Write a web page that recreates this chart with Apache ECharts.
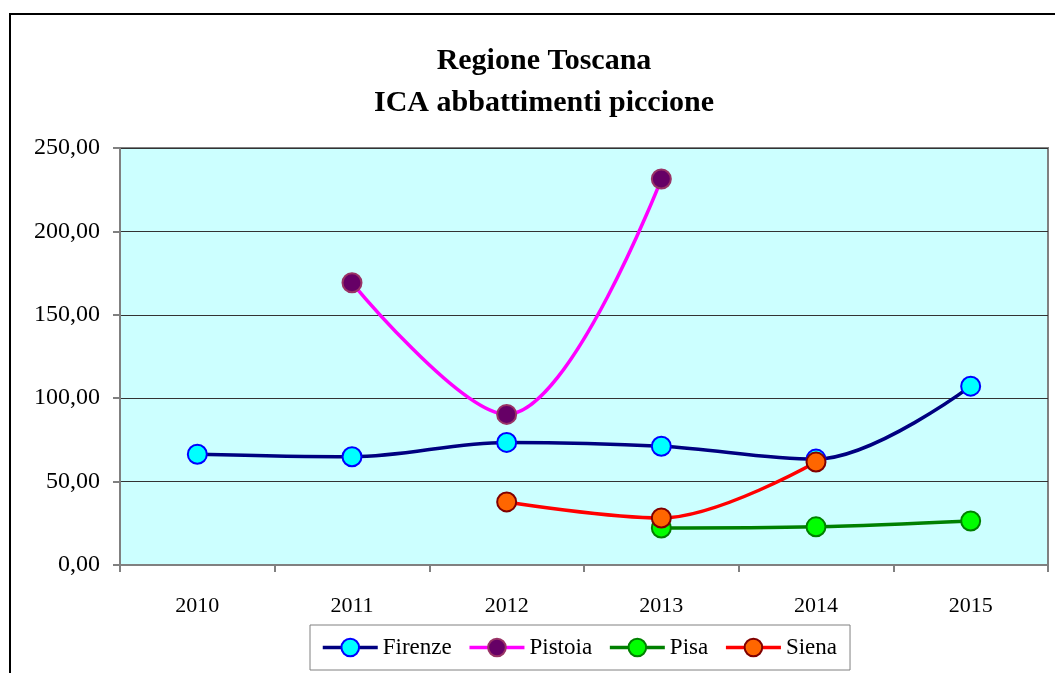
<!DOCTYPE html>
<html>
<head>
<meta charset="utf-8">
<style>
  html, body { margin: 0; padding: 0; background: #fff; }
  #chart { width: 1055px; height: 673px; }
</style>
<script src="https://cdn.jsdelivr.net/npm/echarts@6/dist/echarts.min.js"></script>
</head>
<body>
<div id="chart"></div>
<script>
// anni e valori
var years = ['2010', '2011', '2012', '2013', '2014', '2015'];
var firenze = [66.4, 64.9, 73.5, 71.2, 63.5, 107.2];
var pistoia = [null, 169.2, 90.3, 231.4, null, null];
var pisa = [null, null, null, 22.2, 22.9, 26.4];
var siena = [null, null, 37.8, 28.2, 61.7, null];

var serif = 'Liberation Serif, Times New Roman, serif';

function serie(name, data, lineColor, fill, border) {
    return {
        name: name,
        type: 'line',
        data: data,
        smooth: 0.35,
        connectNulls: false,
        symbol: 'circle',
        symbolSize: 19,
        lineStyle: { color: lineColor, width: 3.5 },
        itemStyle: { color: fill, borderColor: border, borderWidth: 2 }
    };
}

var myChart = echarts.init(document.getElementById('chart'));
var option = {
    backgroundColor: '#fff',
    animation: false,
    textStyle: { fontFamily: serif },
    title: {
        text: 'Regione Toscana\nICA abbattimenti piccione',
        left: 539,
        textAlign: 'center',
        top: 35,
        textStyle: {
            fontFamily: serif,
            fontSize: 30,
            fontWeight: 'bold',
            color: '#000',
            lineHeight: 42
        }
    },
    graphic: [{
        type: 'rect',
        shape: { x: 10, y: 14, width: 1100, height: 700 },
        style: { fill: 'none', stroke: '#000', lineWidth: 2 },
        silent: true
    }],
    legend: {
        bottom: 3,
        left: 310,
        borderColor: '#808080',
        borderWidth: 1,
        padding: [11, 13, 11, 11],
        itemGap: 16,
        itemWidth: 55,
        itemHeight: 22,
        lineStyle: { width: 3.5 },
        textStyle: { fontFamily: serif, fontSize: 23, color: '#000' },
        data: ['Firenze', 'Pistoia', 'Pisa', 'Siena']
    },
    grid: {
        left: 120,
        top: 148,
        right: 7,
        bottom: 108,
        show: true,
        backgroundColor: '#CCFFFF',
        borderColor: '#808080',
        borderWidth: 2
    },
    xAxis: {
        type: 'category',
        data: years,
        boundaryGap: true,
        axisLine: { lineStyle: { color: '#808080', width: 2 } },
        axisTick: { show: true, length: 7, alignWithLabel: false, lineStyle: { color: '#808080', width: 2 } },
        axisLabel: { fontFamily: serif, fontSize: 22, color: '#000', margin: 30 }
    },
    yAxis: {
        type: 'value',
        min: 0,
        max: 250,
        interval: 50,
        axisLine: { show: true, lineStyle: { color: '#808080', width: 2 } },
        axisTick: { show: true, length: 7, lineStyle: { color: '#808080', width: 2 } },
        splitLine: { lineStyle: { color: '#333', width: 1 } },
        axisLabel: {
            fontFamily: serif,
            fontSize: 24,
            color: '#000',
            margin: 20,
            formatter: function (v) { return v.toFixed(2).replace('.', ','); }
        }
    },
    series: [
        serie('Firenze', firenze, '#000080', '#00FFFF', '#0000FF'),
        serie('Pistoia', pistoia, '#FF00FF', '#660066', '#993366'),
        serie('Pisa', pisa, '#008000', '#00FF00', '#008000'),
        serie('Siena', siena, '#FF0000', '#FF6600', '#800000')
    ]
};
myChart.setOption(option);
</script>
</body>
</html>
